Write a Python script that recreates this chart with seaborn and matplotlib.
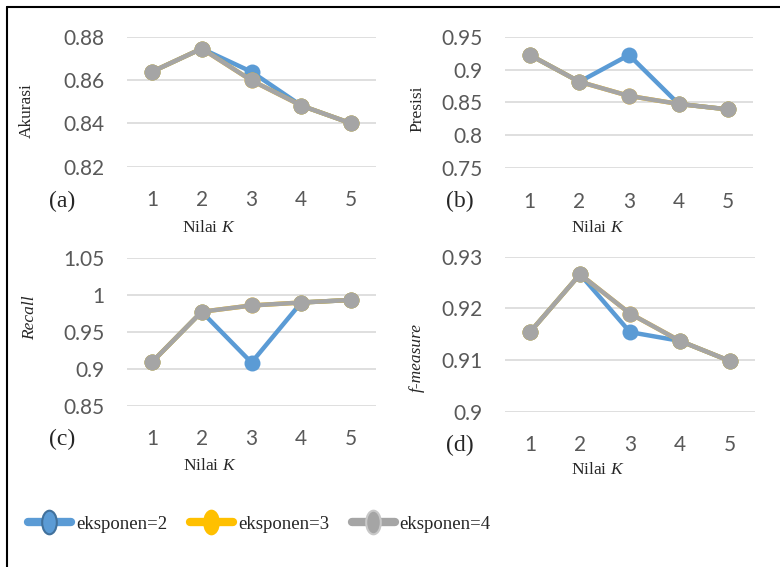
import pandas as pd
import matplotlib
matplotlib.use('Agg')
import matplotlib.pyplot as plt
import seaborn as sns
from matplotlib.lines import Line2D
from matplotlib.path import Path
from matplotlib.transforms import Affine2D

# data
k_values = [1, 2, 3, 4, 5]
series_names = ['eksponen=2', 'eksponen=3', 'eksponen=4']

akurasi_e2 = [0.8638, 0.8745, 0.8638, 0.8482, 0.8400]
akurasi_e3 = [0.8638, 0.8745, 0.8598, 0.8482, 0.8400]
akurasi_e4 = [0.8638, 0.8745, 0.8598, 0.8482, 0.8400]

presisi_e2 = [0.9222, 0.8815, 0.9222, 0.8478, 0.8395]
presisi_e3 = [0.9222, 0.8815, 0.8600, 0.8478, 0.8395]
presisi_e4 = [0.9222, 0.8815, 0.8600, 0.8478, 0.8395]

recall_e2 = [0.9090, 0.9775, 0.9085, 0.9900, 0.9935]
recall_e3 = [0.9090, 0.9775, 0.9860, 0.9900, 0.9935]
recall_e4 = [0.9090, 0.9775, 0.9860, 0.9900, 0.9935]

fmeasure_e2 = [0.9154, 0.9266, 0.9154, 0.9137, 0.9098]
fmeasure_e3 = [0.9154, 0.9266, 0.9190, 0.9137, 0.9098]
fmeasure_e4 = [0.9154, 0.9266, 0.9190, 0.9137, 0.9098]

akurasi_ticks = [0.82, 0.84, 0.86, 0.88]
presisi_ticks = [0.75, 0.8, 0.85, 0.9, 0.95]
recall_ticks = [0.85, 0.9, 0.95, 1.0, 1.05]
fmeasure_ticks = [0.9, 0.91, 0.92, 0.93]
akurasi_labels = ['0.82', '0.84', '0.86', '0.88']
presisi_labels = ['0.75', '0.8', '0.85', '0.9', '0.95']
recall_labels = ['0.85', '0.9', '0.95', '1', '1.05']
fmeasure_labels = ['0.9', '0.91', '0.92', '0.93']

colors = ['#5B9BD5', '#FFC000', '#A5A5A5']
edge_colors = ['#41719C', '#FFC000', '#C8C8C8']

sns.set_style('white')
plt.rcParams['mathtext.fontset'] = 'custom'
plt.rcParams['mathtext.rm'] = 'Liberation Serif'
plt.rcParams['mathtext.it'] = 'Liberation Serif:italic'

W, H = 780, 567
fig = plt.figure(figsize=(7.8, 5.67), dpi=100)


def px_axes(x0, x1, y0, y1):
    return fig.add_axes([x0 / W, 1 - y1 / H, (x1 - x0) / W, (y1 - y0) / H])


def make_df(e2, e3, e4):
    rows = []
    for name, vals in zip(series_names, [e2, e3, e4]):
        for k, v in zip(k_values, vals):
            rows.append({'K': k, 'nilai': v, 'eksponen': name})
    return pd.DataFrame(rows)


panels = [
    ((127, 376, 36.7, 166.7), make_df(akurasi_e2, akurasi_e3, akurasi_e4),
     akurasi_ticks, akurasi_labels, 'Akurasi', 'normal', (27, 111), '(a)', (62, 201), (209, 228)),
    ((505, 753, 36.7, 168.3), make_df(presisi_e2, presisi_e3, presisi_e4),
     presisi_ticks, presisi_labels, 'Presisi', 'normal', (417, 109), '(b)', (460, 201), (598, 228)),
    ((127, 376, 258.3, 405.7), make_df(recall_e2, recall_e3, recall_e4),
     recall_ticks, recall_labels, 'Recall', 'italic', (30, 318), '(c)', (62, 439), (210, 466)),
    ((505, 755, 256.7, 411.7), make_df(fmeasure_e2, fmeasure_e3, fmeasure_e4),
     fmeasure_ticks, fmeasure_labels, 'f-measure', 'italic', (417, 357), '(d)', (460, 445), (598, 470)),
]

for box, df, ticks, tlabels, ylab, ystyle, ypos, tag, tagpos, xlpos in panels:
    ax = px_axes(*box)
    sns.lineplot(data=df, x='K', y='nilai', hue='eksponen', palette=colors,
                 marker='o', markersize=11.5, linewidth=3.2, markeredgewidth=0,
                 legend=False, ax=ax, clip_on=False)
    ax.set_xlim(0.5, 5.5)
    ax.set_ylim(ticks[0], ticks[-1])
    ax.set_xticks(k_values)
    ax.set_yticks(ticks)
    ax.set_yticklabels(tlabels)
    ax.set_xlabel('')
    ax.set_ylabel('')
    for s in ax.spines.values():
        s.set_visible(False)
    ax.grid(axis='y', color='#D9D9D9', linewidth=1.2)
    ax.set_axisbelow(True)
    ax.tick_params(axis='both', length=0, labelsize=15, labelcolor='#595959')
    ax.tick_params(axis='x', pad=17)
    ax.tick_params(axis='y', pad=16)
    for lab in ax.get_xticklabels() + ax.get_yticklabels():
        lab.set_family('Lato')
    fig.text(ypos[0] / W, 1 - ypos[1] / H, ylab, rotation=90, ha='center', va='center',
             fontsize=12.5, family='Liberation Serif', style=ystyle)
    fig.text(tagpos[0] / W, 1 - tagpos[1] / H, tag, ha='center', va='center',
             fontsize=17, family='Liberation Serif')
    fig.text(xlpos[0] / W, 1 - xlpos[1] / H, r'Nilai $\mathit{K}$', ha='center', va='center',
             fontsize=12.5, family='Liberation Serif')

# legend
ellipse = Path.unit_circle().transformed(Affine2D().scale(0.62, 1.0))
handles = [Line2D([], [], color=c, linewidth=6, marker=ellipse, markersize=17,
                  markerfacecolor=c, markeredgecolor=ec, markeredgewidth=1.5)
           for c, ec in zip(colors, edge_colors)]
leg = fig.legend(handles, series_names, loc='center left', bbox_to_anchor=(11 / W, 1 - 524 / H),
                 ncol=3, frameon=False, handlelength=2.3, handletextpad=0.27, columnspacing=1.2,
                 prop={'family': 'Liberation Serif', 'size': 13.5})

# frame lines
fig.add_artist(Line2D([7 / W, 7 / W], [0, 1 - 7 / H], color='black', linewidth=1.5,
                      transform=fig.transFigure))
fig.add_artist(Line2D([7 / W, 1], [1 - 7 / H, 1 - 7 / H], color='black', linewidth=1.5,
                      transform=fig.transFigure))

fig.savefig('out.png', dpi=100)
